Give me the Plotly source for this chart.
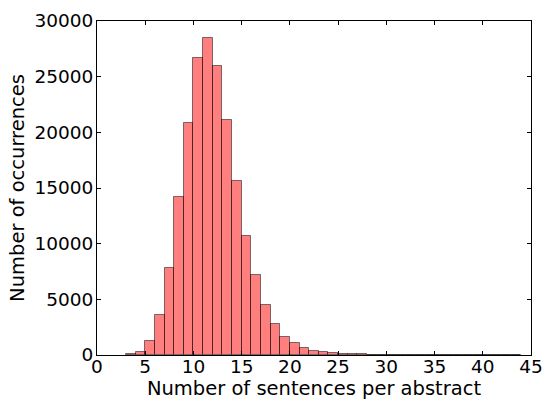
import plotly.graph_objects as go

# Histogram bins (left edges, width 1) and counts
bin_left = list(range(3, 44))
counts = [100, 300, 1300, 3600, 7800, 14200, 20800, 26700, 28450, 26000,
          21100, 15600, 10650, 7150, 4500, 2800, 1650, 1050, 600, 390,
          250, 150, 100, 70, 50, 35, 25, 20, 15, 10,
          8, 6, 5, 4, 3, 3, 2, 2, 1, 1, 1]
bin_width = 1

x_ticks = [0, 5, 10, 15, 20, 25, 30, 35, 40, 45]
y_ticks = [0, 5000, 10000, 15000, 20000, 25000, 30000]

centers = [b + bin_width / 2 for b in bin_left]

fig = go.Figure()
fig.add_trace(go.Bar(
    x=centers, y=counts, width=bin_width,
    marker=dict(color="rgba(255,0,0,0.5)",
                line=dict(color="rgba(0,0,0,0.5)", width=1)),
))

tick_font = dict(family="DejaVu Sans", size=18.5, color="black")
title_font = dict(family="DejaVu Sans", size=19.5, color="black")
axis_common = dict(
    showline=True, linecolor="black", linewidth=1, mirror="allticks",
    ticks="inside", ticklen=4, tickwidth=1, tickcolor="black",
    showgrid=False, zeroline=False, tickfont=tick_font, automargin=False,
)
fig.update_layout(
    width=547, height=401,
    margin=dict(l=97, r=16, t=21, b=46),
    paper_bgcolor="white", plot_bgcolor="white",
    showlegend=False, bargap=0,
    font=tick_font,
    xaxis=dict(range=[0, 45], tickvals=x_ticks,
               ticktext=[str(v) for v in x_ticks],
               ticklabelstandoff=-5,
               title=dict(text="Number of sentences per abstract", font=title_font, standoff=2),
               **axis_common),
    yaxis=dict(range=[0, 30000], tickvals=y_ticks,
               ticktext=[str(v) for v in y_ticks],
               ticklabelstandoff=-1,
               title=dict(text="Number of occurrences", font=title_font, standoff=4),
               **axis_common),
)
fig.write_html("out.html",
               config={"displayModeBar": False},
               post_script="document.body.style.margin='0px';document.body.style.overflow='hidden';")
